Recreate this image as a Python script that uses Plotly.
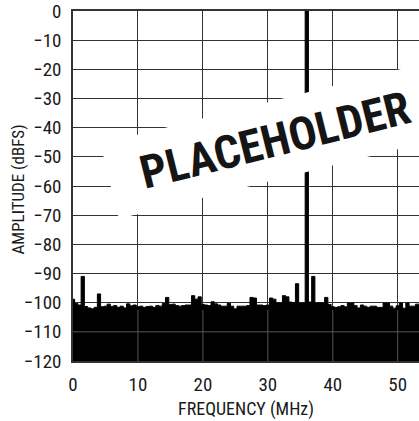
import plotly.graph_objects as go

# FFT bins (MHz) and amplitudes (dBFS)
freq_mhz = [i * 0.5 for i in range(108)]
amplitude_dbfs = [
    -98.8, -100.3, -100.8, -91.0, -101.3, -101.8, -102.1, -101.6, -97.0, -101.4,
    -101.2, -100.5, -101.3, -101.0, -101.6, -101.2, -101.8, -100.4, -101.1, -100.8,
    -101.4, -101.2, -101.6, -101.3, -101.2, -101.6, -101.0, -101.2, -100.3, -98.2,
    -100.6, -100.5, -101.0, -101.2, -101.0, -100.8, -100.8, -97.6, -98.8, -98.0,
    -100.6, -100.8, -101.0, -99.7, -100.4, -100.8, -101.2, -101.2, -100.2, -101.2,
    -102.1, -101.2, -101.2, -101.2, -101.0, -98.2, -98.4, -100.8, -100.8, -101.0,
    -100.8, -98.4, -98.8, -100.1, -100.1, -97.6, -98.0, -99.8, -100.0, -93.5,
    -100.1, -100.1, 0.0, -99.8, -91.0, -100.1, -100.1, -100.1, -98.2, -100.6,
    -101.4, -101.6, -101.4, -101.0, -101.4, -100.1, -100.1, -101.0, -101.8, -100.8,
    -101.2, -101.6, -101.2, -101.2, -101.6, -101.6, -100.1, -100.1, -101.2, -101.9,
    -101.1, -100.1, -101.9, -100.1, -101.2, -101.2, -100.5, -100.5,
]
floor_db = -120
x_ticks = [0, 10, 20, 30, 40, 50]
y_ticks = [0, -10, -20, -30, -40, -50, -60, -70, -80, -90, -100, -110, -120]
y_tick_text = ["0" if v == 0 else "\u2212" + str(-v) for v in y_ticks]

FONT = "Liberation Sans Narrow, Roboto Condensed, DejaVu Sans Condensed, sans-serif"

fig = go.Figure()
fig.add_trace(go.Scatter(
    x=freq_mhz, y=[floor_db] * len(freq_mhz), mode="lines",
    line=dict(width=0, color="black"), showlegend=False, hoverinfo="skip",
))
fig.add_trace(go.Scatter(
    x=freq_mhz, y=amplitude_dbfs, mode="lines", line_shape="hvh",
    line=dict(color="black", width=1), fill="tonexty", fillcolor="black",
    showlegend=False,
))

# grid lines visible through the black noise floor
shapes = []
for xv in x_ticks[1:]:
    shapes.append(dict(type="line", xref="x", yref="y", x0=xv, x1=xv,
                       y0=floor_db, y1=-102.5, layer="above",
                       line=dict(color="#555555", width=1)))
shapes.append(dict(type="line", xref="paper", yref="y", x0=0, x1=1,
                   y0=-110, y1=-110, layer="above",
                   line=dict(color="#555555", width=1)))

fig.update_layout(
    width=419, height=421,
    margin=dict(l=73, r=0, t=11, b=60),
    paper_bgcolor="white", plot_bgcolor="white",
    font=dict(family=FONT, size=19, color="#1a1a1a"),
    shapes=shapes,
    annotations=[
        dict(
            text="<b>PLACEHOLDER</b>", xref="paper", yref="paper",
            x=0.585, y=0.632, showarrow=False, textangle=-14,
            font=dict(family=FONT, size=46, color="#151515"),
            bgcolor="white", borderpad=0, width=340, height=76,
        ),
        dict(
            text="AMPLITUDE (dBFS)", xref="paper", yref="paper",
            x=-0.159, y=0.49, showarrow=False, textangle=-90,
            xanchor="center", yanchor="middle",
            font=dict(family=FONT, size=17, color="#1a1a1a"),
        ),
    ],
)
fig.update_xaxes(
    range=[0, 53.28], tickvals=x_ticks, showgrid=True, gridcolor="#333333",
    gridwidth=1, zeroline=False, showline=True, linecolor="#333333",
    linewidth=1.5, mirror=True, ticks="outside", ticklen=5,
    tickcolor="rgba(0,0,0,0)",
    title=dict(text="FREQUENCY (MHz)", font=dict(size=18), standoff=8),
)
fig.update_yaxes(
    range=[-120, 0], tickvals=y_ticks, ticktext=y_tick_text, showgrid=True,
    gridcolor="#333333", gridwidth=1, zeroline=False, showline=True,
    linecolor="#333333", linewidth=1.5, mirror=False, ticks="outside",
    ticklen=6, tickcolor="rgba(0,0,0,0)", ticklabeloverflow="allow",
)

fig.write_html("out.html",
               config={"displayModeBar": False},
               post_script="document.body.style.margin='0';"
                           "document.body.style.overflow='hidden';")
